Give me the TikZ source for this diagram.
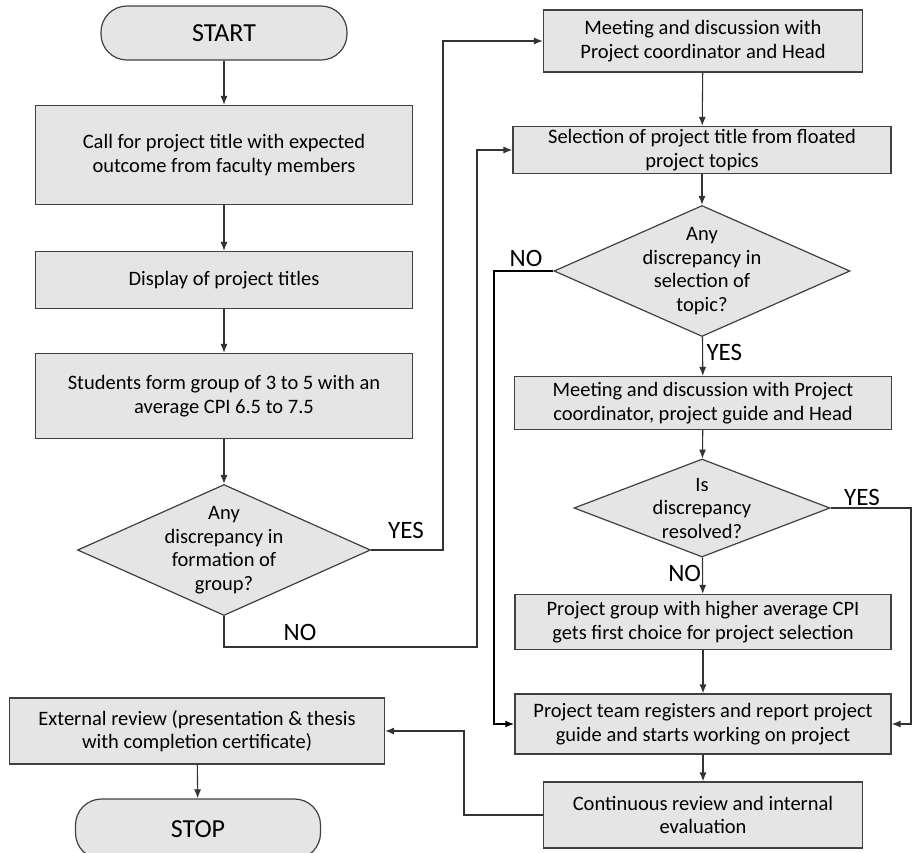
\documentclass[tikz,border=0pt]{standalone}
\usepackage{fontspec}
\setmainfont{Carlito}
\usetikzlibrary{shapes.geometric,arrows.meta}

\begin{document}
\begin{tikzpicture}[
    x=1pt, y=-1pt,
    every node/.style={font={\fontsize{20.5}{23.5}\selectfont}},
    box/.style={draw=black!75, line width=1.2pt, fill=black!10, align=center, inner sep=1pt},
    terminal/.style={box, rounded corners=26pt, font={\fontsize{26}{30}\selectfont}},
    decision/.style={box, diamond, inner sep=-25pt},
    arrow/.style={draw=black!80, line width=1.1pt, -{Latex[length=9pt,width=7pt]}},
    answer/.style={font={\fontsize{25}{30}\selectfont}}
]

    \useasboundingbox (0,0) rectangle (912,852);

    % Left column
    \node[terminal, minimum width=246pt, minimum height=54pt] (start) at (224,33) {START};
    \node[box, minimum width=377pt, minimum height=99pt] (call) at (224,155)
        {Call for project title with expected\\outcome from faculty members};
    \node[box, minimum width=377pt, minimum height=57pt] (display) at (224,280)
        {Display of project titles};
    \node[box, minimum width=377pt, minimum height=85pt] (students) at (224,396)
        {Students form group of 3 to 5 with an\\average CPI 6.5 to 7.5};
    \node[decision, minimum width=293pt, minimum height=131pt] (anyform) at (224,550)
        {Any\\discrepancy in\\formation of\\group?};

    % Right column
    \node[box, minimum width=319pt, minimum height=62pt] (meet1) at (703,41)
        {Meeting and discussion with\\Project coordinator and Head};
    \node[box, minimum width=378pt, minimum height=47pt] (select) at (702,150)
        {Selection of project title from floated\\project topics};
    \node[decision, minimum width=296pt, minimum height=131pt] (anysel) at (702,271)
        {Any\\discrepancy in\\selection of\\topic?};
    \node[box, minimum width=377pt, minimum height=53pt] (meet2) at (703,403)
        {Meeting and discussion with Project\\coordinator, project guide and Head};
    \node[decision, minimum width=256pt, minimum height=98pt] (resolved) at (702,508)
        {Is\\discrepancy\\resolved?};
    \node[box, minimum width=376pt, minimum height=55pt] (group) at (703,622)
        {Project group with higher average CPI\\gets first choice for project selection};
    \node[box, minimum width=376pt, minimum height=60pt] (register) at (703,724)
        {Project team registers and report project\\guide and starts working on project};
    \node[box, minimum width=319pt, minimum height=66pt] (review) at (703,815)
        {Continuous review and internal\\evaluation};

    % Bottom left
    \node[box, minimum width=375pt, minimum height=66pt] (external) at (197,731)
        {External review (presentation \& thesis\\with completion certificate)};
    \node[terminal, minimum width=245pt, minimum height=60pt] (stop) at (198,829) {STOP};

    % Turning points
    \coordinate (yesturn) at (443,550);
    \coordinate (noturn) at (477,647);
    \coordinate (selturn) at (494,271);
    \coordinate (resturn) at (911,508);
    \coordinate (revturn) at (464,815);

    % Straight flow
    \draw[arrow] (start) -- (call);
    \draw[arrow] (call) -- (display);
    \draw[arrow] (display) -- (students);
    \draw[arrow] (students) -- (anyform);
    \draw[arrow] (meet1) -- (select);
    \draw[arrow] (select) -- (anysel);
    \draw[arrow] (anysel) -- (meet2) node[answer, pos=0.4, right] (yes2) {YES};
    \draw[arrow] (meet2) -- (resolved);
    \draw[arrow] (resolved) -- (group) node[answer, pos=0.45, left, inner sep=1pt] (no3) {NO};
    \draw[arrow] (group) -- (register);
    \draw[arrow] (register) -- (review);
    \draw[arrow] (external) -- (stop);

    % Branches
    \draw[arrow] (anyform.east) -- (yesturn) |- (meet1.west);
    \node[answer] (yes1) at (406,530) {YES};
    \draw[arrow] (anyform.south) |- (noturn) |- (select.west);
    \node[answer] (no1) at (300,632) {NO};
    \draw[arrow, line width=2.2pt, draw=black] (anysel.west) -- (selturn) |- (register.west);
    \node[answer] (no2) at (526,258) {NO};
    \draw[arrow] (resolved.east) -- (resturn) |- (register.east);
    \node[answer] (yes3) at (862,497) {YES};
    \draw[arrow] (review.west) -- (revturn) |- (external.east);

\end{tikzpicture}
\end{document}
